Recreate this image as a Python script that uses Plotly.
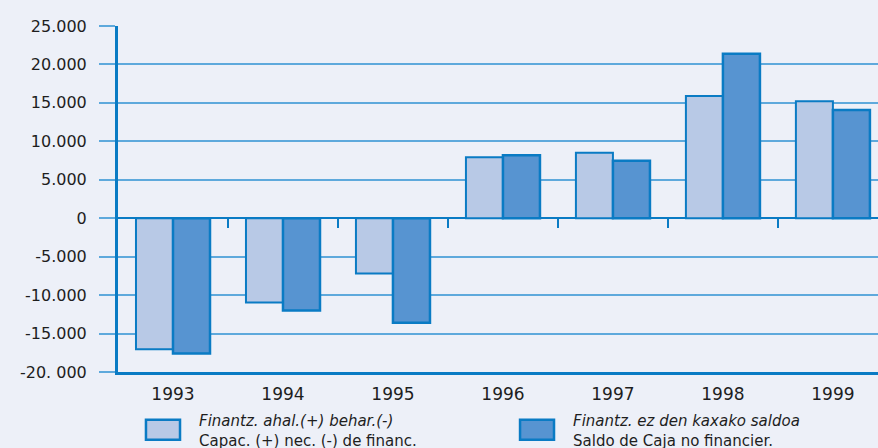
import plotly.graph_objects as go

years = ["1993", "1994", "1995", "1996", "1997", "1998", "1999"]
capac = [-17030, -10960, -7190, 7920, 8530, 15910, 15210]
saldo = [-17600, -12000, -13600, 8180, 7490, 21380, 14090]
y_tickvals = [-20000, -15000, -10000, -5000, 0, 5000, 10000, 15000, 20000, 25000]
y_ticktext = ["-20. 000", "-15.000", "-10.000", "-5.000", "0", "5.000",
              "10.000", "15.000", "20.000", "25.000"]
name1_a = "Finantz. ahal.(+) behar.(-)"
name1_b = "Capac. (+) nec. (-) de financ."
name2_a = "Finantz. ez den kaxako saldoa"
name2_b = "Saldo de Caja no financier."

BG = "#EDF0F8"
LIGHT = "#B8C9E6"
DARK = "#5794D1"
EDGE = "#0A7BC4"
GRID = "#5EA9DC"
TXT = "#1E1E1E"

y_range = [-20000, 25000]
x_range = [-0.5, 6.41]

fig = go.Figure()
fig.add_trace(go.Bar(x=years, y=capac, name=name1_a, marker=dict(color=LIGHT, line=dict(color=EDGE, width=2))))
fig.add_trace(go.Bar(x=years, y=saldo, name=name2_a, marker=dict(color=DARK, line=dict(color=EDGE, width=2.5))))
# invisible trace for the boundary-tick axis
fig.add_trace(go.Scatter(x=[0], y=[0], xaxis="x2", yaxis="y", mode="markers",
                         marker=dict(opacity=0), hoverinfo="skip", showlegend=False))

zero_pos = (0 - y_range[0]) / (y_range[1] - y_range[0])

fig.update_layout(
    width=878, height=448,
    margin=dict(l=118, r=0, t=26, b=76),
    paper_bgcolor=BG, plot_bgcolor=BG,
    showlegend=False,
    barmode="group", bargap=0.327, bargroupgap=0,
    font=dict(family="DejaVu Sans", color=TXT),
    xaxis=dict(type="category", range=x_range, showgrid=False, showline=True,
               linecolor=EDGE, linewidth=3, ticks="outside", ticklen=5,
               tickcolor="rgba(0,0,0,0)", tickfont=dict(size=17, family="DejaVu Sans", color=TXT),
               zeroline=False),
    xaxis2=dict(overlaying="x", anchor="free", position=zero_pos, range=x_range,
                type="linear", tickvals=[0.5, 1.5, 2.5, 3.5, 4.5, 5.5], showticklabels=False,
                ticks="outside", ticklen=9, tickwidth=1.5, tickcolor=EDGE,
                showgrid=False, showline=False, zeroline=False),
    yaxis=dict(range=y_range, tickvals=y_tickvals, ticktext=y_ticktext,
               showgrid=True, gridcolor=GRID, gridwidth=1.5,
               showline=True, linecolor=EDGE, linewidth=3,
               ticks="outside", ticklen=16, tickcolor=GRID, tickwidth=1.5,
               ticklabelstandoff=9,
               zeroline=True, zerolinecolor=EDGE, zerolinewidth=2,
               tickfont=dict(size=16, family="DejaVu Sans", color=TXT)),
)

# custom legend
shapes = []
for x0, x1, col in [(0.0368, 0.0816, LIGHT), (0.529, 0.5737, DARK)]:
    shapes.append(dict(type="rect", xref="paper", yref="paper", x0=x0, x1=x1,
                       y0=-0.138, y1=-0.1957, fillcolor=col, line=dict(color=EDGE, width=2.5)))
fig.update_layout(shapes=shapes)

ann = []
for xp, ta, tb in [(0.104, name1_a, name1_b), (0.596, name2_a, name2_b)]:
    ann.append(dict(xref="paper", yref="paper", x=xp, y=(372 - 431) / 346, xanchor="left",
                    yanchor="middle", showarrow=False, align="left",
                    text="<i>" + ta + "</i><br>" + tb,
                    font=dict(size=15, family="DejaVu Sans", color=TXT)))
fig.update_layout(annotations=ann)

fig.write_html("out.html", config={"displayModeBar": False},
               post_script="document.body.style.margin='0';document.body.style.padding='0';document.body.style.overflow='hidden';")
